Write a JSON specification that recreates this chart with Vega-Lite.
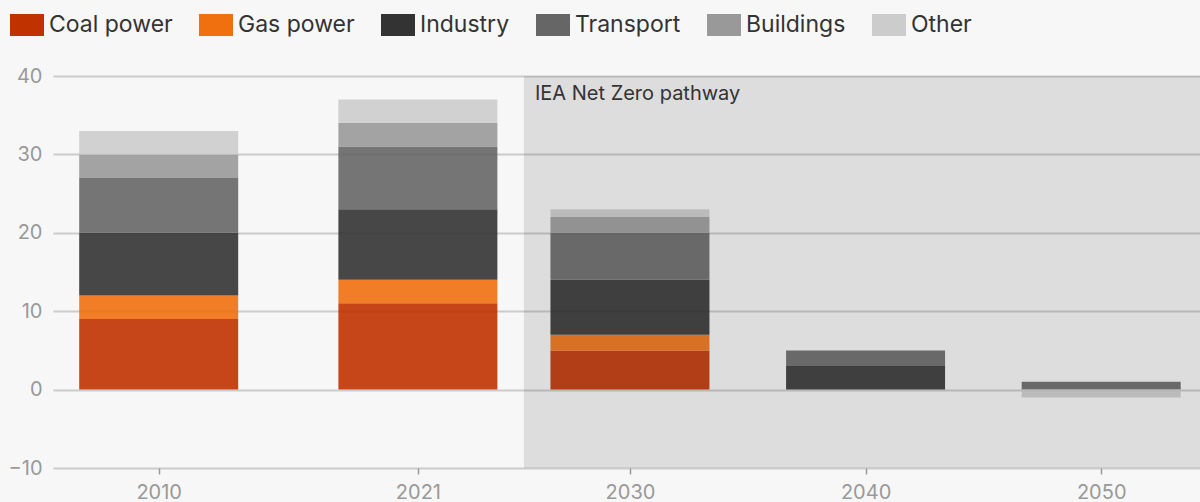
{
  "$schema": "https://vega.github.io/schema/vega-lite/v6.json",
  "width": 1147,
  "height": 392,
  "autosize": {"type": "none"},
  "padding": {"left": 53, "top": 76, "right": 0, "bottom": 34},
  "background": "#f7f7f7",
  "config": {"font": "Inter", "view": {"stroke": null}},
  "layer": [
    {
      "data": {
        "values": [
          {"year": 2010, "sector": "Coal power", "rank": 1, "value": 9},
          {"year": 2010, "sector": "Gas power", "rank": 2, "value": 3},
          {"year": 2010, "sector": "Industry", "rank": 3, "value": 8},
          {"year": 2010, "sector": "Transport", "rank": 4, "value": 7},
          {"year": 2010, "sector": "Buildings", "rank": 5, "value": 3},
          {"year": 2010, "sector": "Other", "rank": 6, "value": 3},
          {"year": 2021, "sector": "Coal power", "rank": 1, "value": 11},
          {"year": 2021, "sector": "Gas power", "rank": 2, "value": 3},
          {"year": 2021, "sector": "Industry", "rank": 3, "value": 9},
          {"year": 2021, "sector": "Transport", "rank": 4, "value": 8},
          {"year": 2021, "sector": "Buildings", "rank": 5, "value": 3},
          {"year": 2021, "sector": "Other", "rank": 6, "value": 3},
          {"year": 2030, "sector": "Coal power", "rank": 1, "value": 5},
          {"year": 2030, "sector": "Gas power", "rank": 2, "value": 2},
          {"year": 2030, "sector": "Industry", "rank": 3, "value": 7},
          {"year": 2030, "sector": "Transport", "rank": 4, "value": 6},
          {"year": 2030, "sector": "Buildings", "rank": 5, "value": 2},
          {"year": 2030, "sector": "Other", "rank": 6, "value": 1},
          {"year": 2040, "sector": "Coal power", "rank": 1, "value": 0},
          {"year": 2040, "sector": "Gas power", "rank": 2, "value": 0},
          {"year": 2040, "sector": "Industry", "rank": 3, "value": 3},
          {"year": 2040, "sector": "Transport", "rank": 4, "value": 2},
          {"year": 2040, "sector": "Buildings", "rank": 5, "value": 0},
          {"year": 2040, "sector": "Other", "rank": 6, "value": 0},
          {"year": 2050, "sector": "Coal power", "rank": 1, "value": 0},
          {"year": 2050, "sector": "Gas power", "rank": 2, "value": 0},
          {"year": 2050, "sector": "Industry", "rank": 3, "value": 0},
          {"year": 2050, "sector": "Transport", "rank": 4, "value": 1},
          {"year": 2050, "sector": "Buildings", "rank": 5, "value": 0},
          {"year": 2050, "sector": "Other", "rank": 6, "value": -1}
        ]
      },
      "mark": {"type": "bar", "width": 159, "opacity": 0.9},
      "encoding": {
        "x": {
          "field": "year",
          "type": "quantitative",
          "scale": {"domain": [2005.514, 2054.193], "nice": false, "zero": false, "padding": 0},
          "axis": {
            "values": [2010, 2021, 2030, 2040, 2050],
            "format": "d",
            "grid": false,
            "domain": false,
            "ticks": true,
            "tickSize": 6,
            "tickColor": "#999999",
            "tickWidth": 1.5,
            "labelPadding": 8,
            "labelFontSize": 20,
            "labelColor": "#999999",
            "title": null
          }
        },
        "y": {
          "field": "value",
          "type": "quantitative",
          "stack": "zero",
          "scale": {"domain": [-10, 40], "nice": false, "padding": 0},
          "axis": {
            "values": [-10, 0, 10, 20, 30, 40],
            "grid": true,
            "gridColor": "#cccccc",
            "gridWidth": 2,
            "domain": false,
            "ticks": false,
            "labelPadding": 11,
            "labelFontSize": 20,
            "labelColor": "#999999",
            "title": null
          }
        },
        "order": {"field": "rank", "type": "quantitative", "sort": "ascending"},
        "color": {
          "field": "sector",
          "type": "nominal",
          "sort": ["Coal power", "Gas power", "Industry", "Transport", "Buildings", "Other"],
          "scale": {
            "domain": ["Coal power", "Gas power", "Industry", "Transport", "Buildings", "Other"],
            "range": ["#c03200", "#f07010", "#333333", "#666666", "#999999", "#cccccc"]
          },
          "legend": {
            "orient": "none",
            "legendX": -43,
            "legendY": -68,
            "direction": "horizontal",
            "title": null,
            "symbolType": "M-1,-0.647H1V0.647H-1Z",
            "symbolSize": 1156,
            "symbolOpacity": 1,
            "symbolStrokeWidth": 0,
            "labelFontSize": 23,
            "labelColor": "#333333",
            "labelOffset": 5,
            "columnPadding": 26,
            "gridAlign": "none",
            "labelLimit": 300,
            "padding": 0
          }
        }
      }
    },
    {
      "data": {"values": [{"label": "IEA Net Zero pathway"}]},
      "mark": {"type": "rect", "color": "#000000", "opacity": 0.1},
      "encoding": {
        "x": {"datum": 2025.5, "type": "quantitative"},
        "x2": {"datum": 2054.193}
      }
    },
    {
      "data": {"values": [{"label": "IEA Net Zero pathway"}]},
      "mark": {
        "type": "text",
        "align": "left",
        "baseline": "top",
        "dx": 11,
        "dy": 8,
        "fontSize": 20,
        "color": "#333333"
      },
      "encoding": {
        "text": {"field": "label"},
        "x": {"datum": 2025.5, "type": "quantitative"},
        "y": {"datum": 40, "type": "quantitative"}
      }
    }
  ]
}
